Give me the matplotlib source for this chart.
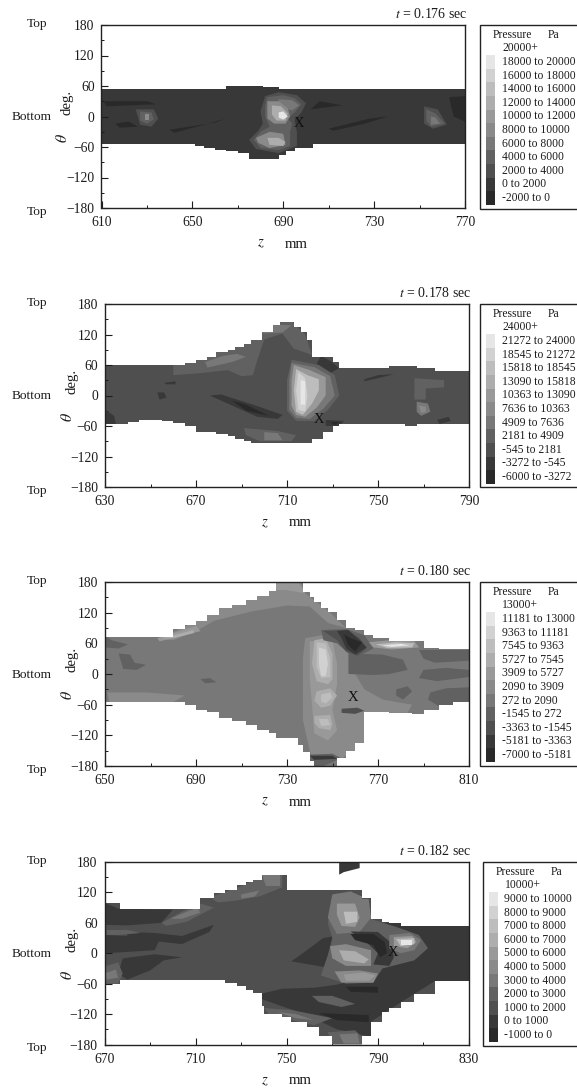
"""Four pressure contour panels, theta against z, grey bands with legend boxes."""
import matplotlib
matplotlib.use("Agg")
import matplotlib.pyplot as plt
from matplotlib.patches import Rectangle
from matplotlib.ticker import MultipleLocator

plt.rcParams['font.family'] = ['Liberation Serif', 'DejaVu Serif']
plt.rcParams['mathtext.fontset'] = 'stix'

# ================= data =================
TIMES = ['0.176', '0.178', '0.180', '0.182']
Z_START = [610, 630, 650, 670]
BASE_LEVEL = [1, 2, 4, 2]
MARK_Z = [697, 724, 759, 796.5]
MARK_THETA = [-13, -48, -46, 2]

LEGEND_TOP = ['20000+', '24000+', '13000+', '10000+']
LEGEND_1 = ['18000 to 20000', '16000 to 18000', '14000 to 16000', '12000 to 14000',
            '10000 to 12000', '8000 to 10000', '6000 to 8000', '4000 to 6000',
            '2000 to 4000', '0 to 2000', '-2000 to 0']
LEGEND_2 = ['21272 to 24000', '18545 to 21272', '15818 to 18545', '13090 to 15818',
            '10363 to 13090', '7636 to 10363', '4909 to 7636', '2181 to 4909',
            '-545 to 2181', '-3272 to -545', '-6000 to -3272']
LEGEND_3 = ['11181 to 13000', '9363 to 11181', '7545 to 9363', '5727 to 7545',
            '3909 to 5727', '2090 to 3909', '272 to 2090', '-1545 to 272',
            '-3363 to -1545', '-5181 to -3363', '-7000 to -5181']
LEGEND_4 = ['9000 to 10000', '8000 to 9000', '7000 to 8000', '6000 to 7000',
            '5000 to 6000', '4000 to 5000', '3000 to 4000', '2000 to 3000',
            '1000 to 2000', '0 to 1000', '-1000 to 0']

# outline of the wetted region: z stations, upper and lower theta
Z_1 = [610, 651, 655, 660, 665, 670, 675, 681, 688, 691, 695, 703, 770]
TOP_1 = [55, 55, 55, 55, 60, 60, 60, 58, 55, 55, 55, 55, 55]
BOT_1 = [-55, -58, -62, -66, -68, -72, -84, -84, -75, -68, -62, -55, -55]

Z_2 = [630, 640, 645, 655, 660, 665, 670, 675, 679, 684, 687, 691, 694, 699, 704, 707,
       711, 713, 716, 719, 721, 726, 730, 733, 750, 755, 762, 767, 775, 790]
TOP_2 = [60, 60, 60, 60, 60, 64, 70, 76, 85, 90, 95, 102, 110, 125, 138, 145,
         145, 135, 125, 110, 76, 76, 66, 55, 55, 58, 58, 55, 49, 49]
BOT_2 = [-56, -52, -48, -50, -54, -60, -71, -72, -75, -80, -85, -90, -94, -94, -94, -94,
         -94, -94, -94, -94, -85, -71, -60, -56, -56, -56, -60, -56, -56, -56]

Z_3 = [650, 665, 680, 685, 690, 695, 700, 706, 712, 717, 722, 725, 735, 737, 740, 742, 745, 748,
       752, 756, 760, 764, 768, 775, 785, 790, 797, 803, 810]
TOP_3 = [73, 72, 88, 95, 103, 115, 129, 135, 145, 152, 162, 180, 180, 160, 150, 140, 130, 122,
         105, 90, 86, 76, 70, 65, 65, 50, 48, 48, 48]
BOT_3 = [-55, -55, -55, -60, -70, -75, -87, -92, -100, -110, -116, -125, -139, -152, -170, -180, -180, -180,
         -165, -150, -135, -75, -75, -76, -78, -70, -60, -55, -55]

Z_4 = [670, 675, 677, 708, 712, 718, 723, 728, 732, 735, 739, 740, 748, 750, 752, 759, 764, 770,
       772, 783, 787, 792, 795, 800, 806, 815, 820, 830]
TOP_4 = [100, 100, 88, 88, 108, 118, 125, 135, 140, 145, 155, 155, 155, 125, 125, 125, 125, 125,
         125, 108, 68, 62, 60, 54, 54, 54, 54, 54]
BOT_4 = [-61, -61, -52, -52, -52, -52, -58, -65, -72, -78, -105, -120, -125, -125, -135, -145, -163, -180,
         -180, -163, -135, -115, -108, -97, -80, -55, -55, -60]

# detached patch near the top of panel 4: level, z, theta
ISLAND_Z = [773, 775, 782, 782, 775, 773]
ISLAND_THETA = [180, 180, 180, 168, 160, 155]
ISLAND_LEVEL = 1

# contour bands as (level, outline of (z, theta)), drawn in order
REGIONS_1 = [
    (0, [(611, 30), (630, 30), (634, 24), (612, 20)]),
    (0, [(616, -14), (622, -10), (626, -20), (618, -22)]),
    (0, [(640, -26), (660, -12), (665, -4), (652, -20), (642, -32)]),
    (0, [(706, 30), (716, 22), (702, 14)]),
    (0, [(710, -24), (728, -4), (736, 0), (726, -14), (712, -28)]),
    (0, [(763, 38), (770, 40), (770, -10), (765, 0)]),
    (2, [(625, 14), (633, 14), (635, -4), (632, -20), (627, -16), (626, 0)]),
    (3, [(627, 10), (632, 8), (633, -6), (630, -14), (627, -8)]),
    (5, [(629, 4), (631, 4), (631, -6), (629, -6)]),
    (2, [(752, 20), (758, 14), (762, -16), (756, -24), (752, -14)]),
    (3, [(753, 14), (757, 6), (761, -14), (755, -20), (753, -8)]),
    (4, [(755, 0), (757, -2), (759, -14), (755, -16)]),
    (2, [(682, 40), (688, 48), (696, 42), (700, 26), (698, 8), (695, -6), (696, -30),
         (696, -58), (688, -72), (678, -64), (675, -46), (679, -28), (681, -14), (680, 10)]),
    (3, [(683, 38), (690, 42), (695, 36), (698, 24), (695, 8), (692, -4), (694, -14), (693, -30),
         (693, -58), (688, -66), (680, -62), (677, -46), (680, -30), (684, -20), (682, 0), (682, 20)]),
    (4, [(688, 34), (694, 32), (697, 22), (694, 12), (690, 16), (688, 24)]),
    (5, [(683, 30), (688, 30), (692, 16), (693, 0), (691, -14), (686, -14), (683, -4)]),
    (5, [(678, -42), (684, -30), (690, -34), (691, -56), (684, -62), (679, -52)]),
    (7, [(685, 22), (689, 20), (692, 6), (691, -8), (687, -8), (685, 4)]),
    (7, [(683, -42), (688, -42), (691, -50), (690, -58), (684, -56)]),
    (10, [(688, 8), (690, 10), (692, 0), (690, -6), (688, -2)]),
]

REGIONS_2 = [
    (3, [(660, 60), (672, 76), (680, 90), (690, 106), (696, 120), (702, 146), (712, 146), (718, 120),
         (721, 80), (713, 92), (708, 122), (700, 110), (697, 70), (695, 40), (690, 38), (684, 50), (672, 44), (660, 40)]),
    (4, [(674, 66), (682, 78), (688, 82), (692, 76), (686, 66), (675, 55)]),
    (4, [(697, 128), (702, 140), (712, 138), (708, 124), (700, 122)]),
    (1, [(630, -28), (634, -40), (635, -60), (630, -60)]),
    (1, [(653, 6), (656, 6), (657, -4), (654, -8)]),
    (1, [(656, 25), (661, 28), (661, 22), (657, 22)]),
    (1, [(676, 0), (681, 2), (695, -18), (708, -38), (706, -46), (697, -42), (685, -18)]),
    (0, [(686, -10), (692, -18), (702, -40), (692, -30)]),
    (1, [(744, 28), (750, 34), (757, 42), (750, 40), (744, 32)]),
    (1, [(725, 78), (729, 68), (733, 54), (729, 44), (723, 62)]),
    (1, [(727, -48), (735, -50), (733, -60), (727, -60)]),
    (0, [(729, -52), (733, -52), (731, -58)]),
    (1, [(776, -48), (781, -42), (782, -50), (777, -56)]),
    (3, [(691, -64), (706, -70), (714, -78), (712, -90), (698, -90), (692, -78)]),
    (4, [(700, -72), (706, -74), (708, -88), (700, -88)]),
    (3, [(712, 70), (724, 60), (731, 40), (733, 0), (728, -28), (722, -50), (714, -50), (710, -30), (710, 30)]),
    (4, [(712, 64), (722, 56), (729, 38), (731, 0), (726, -26), (720, -46), (714, -44), (711, -28), (711, 30)]),
    (6, [(713, 60), (720, 50), (727, 36), (727, 0), (723, -24), (718, -42), (714, -38), (712, -20), (712, 30)]),
    (8, [(714, 52), (719, 40), (724, 32), (724, 10), (721, -16), (717, -38), (714, -32), (713, 10)]),
    (9, [(715, 46), (718, 34), (719, 0), (718, -32), (715, -28), (714, 10)]),
    (10, [(716, 30), (718, 28), (718, -18), (716, -18)]),
    (3, [(766, 34), (779, 30), (779, 16), (771, 14), (771, -8), (766, -8)]),
    (4, [(767, -12), (772, -16), (773, -32), (769, -40), (767, -32)]),
    (5, [(768, -20), (771, -22), (771, -32), (769, -34)]),
]

REGIONS_3 = [
    (5, [(674, 68), (690, 104), (700, 130), (712, 146), (722, 163), (725, 180), (736, 180), (738, 158),
         (748, 124), (756, 90), (748, 100), (740, 132), (730, 134), (714, 122), (698, 104), (690, 84), (680, 66)]),
    (6, [(723, 165), (726, 180), (735, 180), (738, 158), (730, 164)]),
    (6, [(673, 70), (680, 80), (690, 94), (692, 84), (680, 70), (674, 64)]),
    (7, [(675, 70), (682, 78), (689, 86), (689, 80), (680, 70)]),
    (3, [(650, 75), (653, 66), (660, 58), (656, 50), (650, 52)]),
    (3, [(656, 40), (661, 38), (663, 22), (668, 18), (664, 8), (658, 10)]),
    (3, [(692, -10), (696, -8), (699, -16), (694, -18)]),
    (5, [(651, -36), (668, -36), (685, -42), (680, -55), (652, -55)]),
    (5, [(738, 70), (755, 84), (760, 40), (760, 0), (764, -30), (772, -50), (785, -60), (783, -76),
         (764, -76), (764, -140), (752, -170), (742, -182), (740, -150), (737, -90), (737, -30), (737, 30)]),
    (6, [(740, 64), (750, 66), (752, 20), (752, -20), (750, -70), (752, -110), (748, -130), (742, -116),
         (741, -60), (740, -10)]),
    (7, [(742, 66), (747, 70), (750, 40), (750, -10), (748, -20), (743, -14), (741, 20)]),
    (8, [(743, 62), (747, 60), (749, 30), (749, -6), (745, -8), (743, 14)]),
    (9, [(744, 52), (747, 48), (748, 20), (747, -4), (745, -4), (744, 20)]),
    (7, [(743, -34), (749, -28), (752, -42), (749, -62), (745, -66), (742, -52)]),
    (8, [(745, -40), (749, -36), (750, -46), (747, -58), (745, -54)]),
    (7, [(742, -82), (749, -80), (750, -98), (749, -110), (744, -106), (742, -96)]),
    (8, [(744, -88), (748, -88), (749, -100), (745, -102)]),
    (3, [(757, 40), (772, 38), (781, 28), (783, 8), (775, 0), (768, -2), (757, 0)]),
    (3, [(788, 47), (810, 47), (810, 26), (795, 22), (790, 30)]),
    (3, [(790, 8), (800, 12), (810, 8), (810, -6), (796, -14), (788, -8)]),
    (3, [(793, -36), (800, -28), (810, -26), (810, -60), (797, -64), (792, -50)]),
    (3, [(778, -30), (783, -24), (785, -34), (781, -50), (778, -42)]),
    (2, [(754, -68), (761, -66), (764, -72), (760, -78), (754, -76)]),
    (3, [(738, -158), (750, -156), (754, -165), (746, -180), (740, -180)]),
    (1, [(740, -160), (750, -160), (752, -166), (742, -168)]),
    (3, [(745, 86), (756, 88), (764, 76), (768, 50), (762, 36), (757, 40), (752, 60), (746, 66)]),
    (2, [(746, 84), (756, 86), (762, 70), (765, 50), (761, 36), (756, 44), (752, 66)]),
    (1, [(752, 84), (757, 86), (762, 66), (765, 52), (760, 38), (756, 50), (754, 70)]),
    (0, [(755, 78), (758, 70), (763, 62), (760, 44), (757, 56)]),
    (6, [(766, 62), (775, 66), (786, 64), (788, 52), (776, 48), (768, 52)]),
    (8, [(769, 58), (778, 62), (786, 60), (785, 52), (774, 51)]),
    (10, [(772, 56), (780, 59), (784, 56), (776, 53)]),
]

REGIONS_4 = [
    (1, [(670, 100), (676, 88), (700, 86), (695, 60), (680, 55), (670, 56)]),
    (1, [(670, 36), (682, 34), (694, 25), (692, 6), (678, 2), (670, 0)]),
    (1, [(680, 42), (692, 40), (704, 34), (718, 56), (716, 42), (704, 18), (692, 24), (680, 30)]),
    (1, [(678, -10), (692, -2), (704, -8), (696, -14), (690, -34), (680, -52), (676, -40)]),
    (3, [(671, 46), (680, 46), (686, 40), (676, 36), (671, 36)]),
    (3, [(670, -26), (676, -18), (678, -40), (676, -60), (670, -60)]),
    (4, [(670, -40), (675, -32), (676, -48), (671, -52)]),
    (3, [(695, 60), (704, 82), (712, 98), (718, 90), (712, 76), (706, 62), (697, 54)]),
    (4, [(699, 68), (706, 82), (711, 90), (712, 80), (704, 68)]),
    (3, [(716, 110), (730, 132), (736, 146), (748, 156), (748, 130), (738, 112), (728, 104), (720, 100)]),
    (4, [(730, 116), (738, 124), (736, 112), (730, 108)]),
    (4, [(739, 155), (747, 155), (747, 132), (741, 132)]),
    (1, [(757, 0), (766, 30), (771, 34), (778, 50), (787, 60), (795, 60), (830, 54), (830, -60), (815, -55),
         (800, -97), (787, -135), (787, -165), (772, -150), (758, -120), (745, -100), (735, -84), (748, -70),
         (762, -68), (772, -62), (790, -40), (770, -30), (752, -16)]),
    (3, [(768, 60), (772, 118), (782, 108), (788, 66), (798, 52), (808, 36), (812, 10), (806, -14), (792, -30),
         (788, -58), (776, -60), (765, -44), (768, -4), (770, 30)]),
    (4, [(770, 116), (778, 122), (786, 106), (787, 70), (782, 42), (772, 38), (768, 70)]),
    (6, [(772, 98), (780, 98), (782, 70), (780, 52), (774, 54), (772, 76)]),
    (8, [(775, 82), (781, 82), (781, 62), (776, 58)]),
    (5, [(769, 14), (776, 18), (787, 6), (787, -25), (776, -25), (770, -10)]),
    (7, [(773, 6), (780, 4), (786, -12), (784, -20), (775, -14)]),
    (5, [(771, -36), (782, -34), (790, -40), (788, -58), (774, -58)]),
    (6, [(775, -42), (784, -38), (789, -44), (786, -54), (776, -54)]),
    (1, [(778, 43), (790, 42), (796, 20), (797, -8), (795, -25), (788, -22), (790, 0), (785, 22)]),
    (0, [(778, 38), (788, 38), (793, 22), (794, 0), (791, -8), (788, 16), (780, 26)]),
    (4, [(795, 36), (804, 40), (809, 26), (806, 6), (800, 0), (795, 10)]),
    (6, [(797, 32), (805, 34), (807, 22), (803, 10), (797, 14)]),
    (8, [(798, 28), (806, 30), (806, 18), (800, 14)]),
    (10, [(800, 26), (805, 26), (805, 16), (800, 16)]),
    (1, [(773, -62), (790, -60), (796, -70), (790, -82), (776, -80)]),
    (0, [(776, -66), (790, -66), (790, -78), (778, -76)]),
    (3, [(761, -84), (770, -84), (780, -100), (774, -106), (764, -96)]),
    (3, [(740, -108), (752, -112), (770, -128), (762, -142), (752, -132), (742, -120)]),
    (4, [(746, -116), (754, -120), (762, -132), (754, -128)]),
    (0, [(764, -118), (786, -122), (786, -136), (772, -132)]),
    (3, [(768, -156), (780, -152), (783, -165), (783, -180), (770, -180)]),
    (4, [(773, -160), (781, -158), (782, -178), (775, -178)]),
]

LEGENDS = [LEGEND_1, LEGEND_2, LEGEND_3, LEGEND_4]
OUTLINES = [(Z_1, TOP_1, BOT_1), (Z_2, TOP_2, BOT_2), (Z_3, TOP_3, BOT_3), (Z_4, TOP_4, BOT_4)]
REGIONS = [REGIONS_1, REGIONS_2, REGIONS_3, REGIONS_4]

# ================= styling and layout, in pixels of the 577x1088 image =================
W, H = 577, 1088
GREYS = [0.16, 0.22, 0.31, 0.38, 0.47, 0.54, 0.60, 0.68, 0.74, 0.82, 0.90]
INK = '#1c1c1c'
AX_BOX = [(101.5, 25, 465, 208), (105, 304, 469, 487), (105, 582, 469, 766), (104.5, 862, 469, 1044.5)]
LEG_LEFT = [480, 480, 480, 482.5]
LEG_TOP = [25, 304, 582, 862]
LEG_BOTTOM = [209, 487, 766, 1046]
LABEL_Y = [244, 523, 802, 1081]
ZLABEL_X = [261, 265, 265, 265]
TICK_FS = 9.8
LEG_FS = 8.4


def grey(level):
    return str(GREYS[level])


def px_text(x, y, s, **kw):
    kw.setdefault('color', INK)
    kw.setdefault('va', 'center')
    return fig.text(x / W, 1 - y / H, s, **kw)


fig = plt.figure(figsize=(W / 100, H / 100), dpi=100)

for i in range(4):
    x0, y0, x1, y1 = AX_BOX[i]
    ax = fig.add_axes([x0 / W, 1 - y1 / H, (x1 - x0) / W, (y1 - y0) / H])
    z0 = Z_START[i]
    ax.set_xlim(z0, z0 + 160)
    ax.set_ylim(-180, 180)

    # filled region, bands are clipped to it
    z, top, bot = OUTLINES[i]
    base = ax.fill_between(z, bot, top, step='post', color=grey(BASE_LEVEL[i]), lw=0, zorder=1)
    clip = base.get_paths()[0]
    for level, outline in REGIONS[i]:
        zs = [p[0] for p in outline]
        ths = [p[1] for p in outline]
        for patch in ax.fill(zs, ths, color=grey(level), lw=0, zorder=2):
            patch.set_clip_path(clip, ax.transData)
    if i == 3:
        ax.fill(ISLAND_Z, ISLAND_THETA, color=grey(ISLAND_LEVEL), lw=0, zorder=2)

    ax.text(MARK_Z[i], MARK_THETA[i], 'X', ha='center', va='center', fontsize=10.5, color='#111111', zorder=4)

    ax.set_xticks([z0 + 40 * k for k in range(5)])
    ax.set_xticks([z0 + 20 + 40 * k for k in range(4)], minor=True)
    ax.yaxis.set_major_locator(MultipleLocator(60))
    ax.yaxis.set_minor_locator(MultipleLocator(30))
    ax.tick_params(which='major', direction='in', length=5, width=0.8, color=INK, labelsize=TICK_FS,
                   labelcolor=INK, pad=5)
    ax.tick_params(axis='x', which='major', pad=6)
    ax.tick_params(which='minor', direction='in', length=2.5, width=0.7, color=INK)
    for spine in ax.spines.values():
        spine.set_linewidth(1.0)
        spine.set_color('#222222')
        spine.set_zorder(5)

    # labels round the axes
    px_text(x1 + 2.5, y0 - 11, f'$t$ = {TIMES[i]} sec', ha='right', fontsize=10)
    px_text(37, y0 - 1, 'Top', ha='center', fontsize=9.6)
    px_text(32, (y0 + y1) / 2 + 0.5, 'Bottom', ha='center', fontsize=9.6)
    px_text(37, y1 + 4, 'Top', ha='center', fontsize=9.6)
    dx = -5 if i == 0 else 0
    px_text(72 + dx, y0 + 77, 'deg.', rotation=90, ha='center', fontsize=10.6)
    px_text(68 + dx, y0 + 113, r'$\theta$', rotation=90, ha='center', fontsize=11.5)
    px_text(ZLABEL_X[i], LABEL_Y[i], '$z$', ha='center', fontsize=10.7)
    px_text(ZLABEL_X[i] + 35, LABEL_Y[i], 'mm', ha='center', fontsize=10.7)

    # legend box
    lx, ly, lb = LEG_LEFT[i], LEG_TOP[i], LEG_BOTTOM[i]
    fig.add_artist(Rectangle((lx / W, 1 - lb / H), (W + 10 - lx) / W, (lb - ly) / H, transform=fig.transFigure,
                             facecolor='white', edgecolor='#222222', lw=1.0))
    px_text(lx + 13, ly + 10, 'Pressure', fontsize=LEG_FS)
    px_text(lx + 68, ly + 10, 'Pa', fontsize=LEG_FS)
    px_text(lx + 22, ly + 23, LEGEND_TOP[i], fontsize=LEG_FS)
    row = 13.6
    for j, label in enumerate(LEGENDS[i]):
        yc = ly + 37 + j * row
        fig.add_artist(Rectangle(((lx + 6) / W, 1 - (yc + row / 2) / H), 9 / W, row / H, transform=fig.transFigure,
                                 facecolor=grey(10 - j), edgecolor='none'))
        px_text(lx + 22, yc, label, fontsize=LEG_FS)

fig.savefig('out.png', dpi=100)
